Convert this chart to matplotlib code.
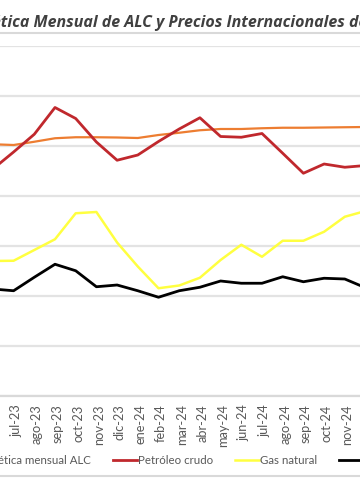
import matplotlib
matplotlib.use("Agg")
import matplotlib.pyplot as plt
import matplotlib.transforms as mtransforms
from matplotlib.lines import Line2D

plt.rcParams['font.family'] = ['Lato', 'DejaVu Sans']

months = ["jun-23", "jul-23", "ago-23", "sep-23", "oct-23", "nov-23", "dic-23",
          "ene-24", "feb-24", "mar-24", "abr-24", "may-24", "jun-24", "jul-24",
          "ago-24", "sep-24", "oct-24", "nov-24", "dic-24"]

demanda = [100.7, 100.4, 101.7, 103.1, 103.5, 103.5, 103.4, 103.2, 104.4, 105.3,
           106.3, 106.8, 106.8, 107.1, 107.3, 107.3, 107.4, 107.5, 107.6]
petroleo = [90.8, 97.6, 104.7, 115.4, 111.0, 101.6, 94.3, 96.4, 101.8, 106.8,
            111.3, 103.8, 103.5, 105.0, 97.1, 89.1, 92.8, 91.5, 92.2]
gas = [54.0, 54.1, 58.4, 62.7, 73.1, 73.6, 61.4, 51.8, 43.1, 44.2,
       47.3, 54.4, 60.5, 55.7, 62.1, 62.1, 65.7, 71.7, 74.0]
carbon = [42.8, 42.1, 47.5, 52.7, 50.1, 43.7, 44.4, 42.1, 39.5, 42.1,
          43.5, 46.0, 45.1, 45.1, 47.7, 45.7, 47.1, 46.8, 43.3]

labels = ["Demanda energética mensual ALC", "Petróleo crudo", "Gas natural", "Carbón"]
title = "Demanda Energética Mensual de ALC y Precios Internacionales de Energía"

W, H = 360, 504
fig = plt.figure(figsize=(3.6, 5.04), dpi=100)

x_first = -7.1
x_last = 365.5
y_bot = 396
y_top = 46
ax = fig.add_axes([x_first / W, (H - y_bot) / H, (x_last - x_first) / W, (y_bot - y_top) / H])
ax.set_xlim(0, len(months) - 1)
ax.set_ylim(0, 140)

xs = list(range(len(months)))
ax.plot(xs, demanda, color="#ED7D31", lw=1.6, label=labels[0])
ax.plot(xs, petroleo, color="#C0282D", lw=2.0, label=labels[1])
ax.plot(xs, gas, color="#FFFF40", lw=1.8, label=labels[2])
ax.plot(xs, carbon, color="#000000", lw=2.0, label=labels[3])

ax.set_yticks(range(0, 141, 20))
ax.yaxis.grid(True, color="#E3E3E3", lw=1.6)
ax.set_axisbelow(True)
ax.tick_params(axis='y', left=False, labelleft=False)
ax.set_xticks(xs)
ax.set_xticklabels(months, rotation=90, fontsize=9.2, color="#595959")
ax.tick_params(axis='x', length=0, pad=6)
offset = mtransforms.ScaledTranslation(2.5 / 100, 0, fig.dpi_scale_trans)
for lab in ax.get_xticklabels():
    lab.set_transform(lab.get_transform() + offset)
for s in ["top", "right", "left"]:
    ax.spines[s].set_visible(False)
ax.spines["bottom"].set_color("#D9D9D9")
ax.spines["bottom"].set_linewidth(1.6)

# chart border lines (top and bottom of the chart area)
for yy in (32.5, 476):
    fig.add_artist(Line2D([0, 1], [(H - yy) / H] * 2, transform=fig.transFigure,
                          color="#D9D9D9", lw=1.5))

# title, positioned so that the visible portion starts at "tica"
renderer = fig.canvas.get_renderer()
tkw = dict(fontsize=11.5, fontweight="bold", fontstyle="italic", color="#404040",
           family=["Open Sans", "DejaVu Sans"])
tmp = fig.text(0, 0, "Demanda Energé", **tkw)
pre_w = tmp.get_window_extent(renderer).width
tmp.remove()
fig.text((0 - pre_w + 1) / W, (H - 27) / H, title, ha="left", va="baseline", **tkw)

# legend
leg = fig.legend(loc="center left", bbox_to_anchor=(0, (H - 461) / H), ncol=4,
                 frameon=False, fontsize=8.3, handlelength=2.1, handletextpad=0.1,
                 columnspacing=1.9, labelcolor="#595959")
fig.canvas.draw()
renderer = fig.canvas.get_renderer()
tx = leg.get_texts()[1].get_window_extent(renderer).x0
shift = 138 - tx
leg.set_bbox_to_anchor((shift / W, (H - 461) / H), transform=fig.transFigure)

fig.savefig("out.png", dpi=100)
